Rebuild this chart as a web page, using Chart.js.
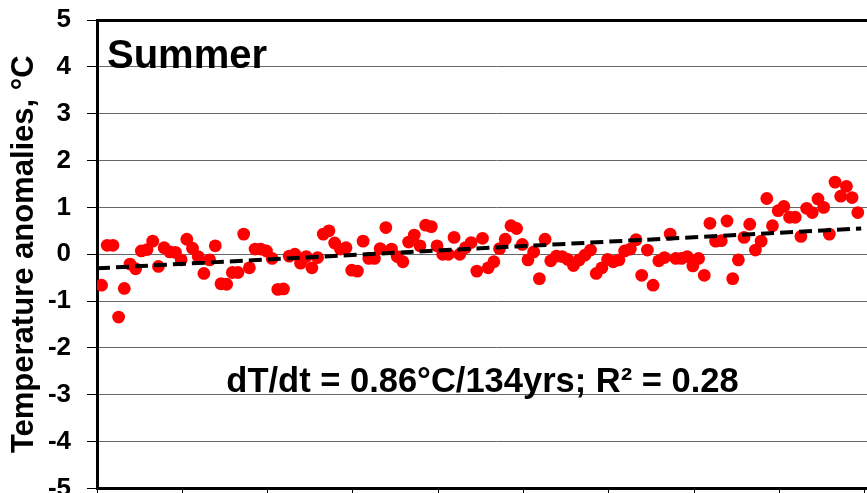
<!DOCTYPE html>
<html>
<head>
<meta charset="utf-8">
<script src="https://cdn.jsdelivr.net/npm/chart.js@4.4.0/dist/chart.umd.min.js"></script>
<style>
  html, body { margin: 0; padding: 0; width: 867px; height: 493px; overflow: hidden; background: #fff; }
  #wrap { position: absolute; left: 0; top: 0; }
</style>
</head>
<body>
<div id="wrap"><canvas id="chart-summer" width="900" height="520"></canvas></div>
<script>
const FONT = 'Arial, "Liberation Sans", sans-serif';

// summer temperature anomalies, one per year 1880..2013
const firstYear = 1880;
const summerAnomalies = [
  -0.66, 0.19, 0.19, -1.34, -0.73, -0.21, -0.31, 0.07, 0.10, 0.28,
  -0.26, 0.14, 0.05, 0.04, -0.12, 0.32, 0.13, -0.05, -0.41, -0.12,
  0.18, -0.63, -0.64, -0.39, -0.39, 0.43, -0.29, 0.11, 0.11, 0.07,
  -0.09, -0.75, -0.74, -0.04, 0.00, -0.19, -0.05, -0.29, -0.07, 0.43,
  0.50, 0.24, 0.11, 0.14, -0.34, -0.36, 0.28, -0.09, -0.09, 0.12,
  0.57, 0.11, -0.05, -0.16, 0.26, 0.41, 0.18, 0.62, 0.59, 0.18,
  0.00, 0.00, 0.36, 0.00, 0.14, 0.25, -0.36, 0.34, -0.29, -0.16,
  0.12, 0.32, 0.61, 0.55, 0.21, -0.12, 0.05, -0.52, 0.32, -0.14,
  -0.04, -0.05, -0.11, -0.24, -0.12, -0.02, 0.09, -0.41, -0.29, -0.11,
  -0.16, -0.12, 0.07, 0.11, 0.31, -0.45, 0.09, -0.66, -0.14, -0.07,
  0.43, -0.09, -0.09, -0.05, -0.25, -0.09, -0.45, 0.66, 0.28, 0.29,
  0.71, -0.52, -0.12, 0.36, 0.64, 0.09, 0.28, 1.19, 0.61, 0.93,
  1.02, 0.79, 0.79, 0.38, 0.98, 0.89, 1.18, 1.00, 0.43, 1.54,
  1.24, 1.45, 1.21, 0.89
];
const years = summerAnomalies.map((v, i) => firstYear + i);

// linear trend (end points)
const trendYears = [1879.2, 2013.6];
const trendValues = [-0.30, 0.55];

// axis ticks
const xMin = 1879.2, xMax = 2019.3;
const xTicks = [1879.2, 1894.2, 1909.2, 1924.2, 1939.2, 1954.2, 1969.2, 1984.2, 1999.2, 2014.2];
const yTicks = [-5, -4, -3, -2, -1, 0, 1, 2, 3, 4, 5];

const panelTitle = 'Summer';
const fitNote = 'dT/dt = 0.86°C/134yrs; R² = 0.28';
const yTitle = 'Temperature anomalies, °C';

const textLabels = {
  id: 'textLabels',
  afterDraw(chart) {
    const { ctx, chartArea, scales } = chart;
    ctx.save();
    ctx.fillStyle = '#000';
    ctx.font = 'bold 40px ' + FONT;
    ctx.textAlign = 'left';
    ctx.textBaseline = 'alphabetic';
    ctx.fillText(panelTitle, chartArea.left + 10, chartArea.top + 48);
    ctx.font = 'bold 34.5px ' + FONT;
    ctx.textAlign = 'center';
    ctx.textBaseline = 'middle';
    ctx.fillText(fitNote, scales.x.getPixelForValue(1947.0), scales.y.getPixelForValue(-2.74));
    ctx.restore();
  }
};

const chartSummer = document.getElementById('chart-summer');

new Chart(chartSummer, {
  type: 'scatter',
  data: {
    datasets: [{
      type: 'line',
      data: trendYears.map((x, i) => ({ x: x, y: trendValues[i] })),
      borderColor: '#000',
      borderWidth: 4,
      borderDash: [13, 6],
      pointRadius: 0,
      order: 0
    }, {
      data: years.map((x, i) => ({ x: x, y: summerAnomalies[i] })),
      backgroundColor: '#ff0000',
      borderWidth: 0,
      pointRadius: 6.4,
      order: 1
    }]
  },
  options: {
    responsive: false,
    animation: false,
    layout: { padding: { left: 0, top: 20, right: 0, bottom: 0 } },
    plugins: { legend: { display: false }, tooltip: { enabled: false } },
    scales: {
      x: {
        type: 'linear',
        min: xMin,
        max: xMax,
        afterBuildTicks: s => { s.ticks = xTicks.map(v => ({ value: v })); },
        afterFit: s => { s.height = 31.5; },
        ticks: { display: false },
        grid: { drawOnChartArea: false, tickLength: 8, color: '#000', lineWidth: 1 },
        border: { color: '#000', width: 3 }
      },
      y: {
        min: -5,
        max: 5,
        afterBuildTicks: s => { s.ticks = yTicks.map(v => ({ value: v })); },
        afterFit: s => { s.width = 97; s.paddingTop = 0; s.paddingBottom = 0; },
        ticks: { color: '#000', padding: 16, font: { family: FONT, size: 26, weight: 'bold' } },
        grid: {
          color: c => (Math.abs(c.tick.value) === 5 ? '#000' : '#666'),
          lineWidth: c => (Math.abs(c.tick.value) === 5 ? 3 : 1),
          tickLength: 10,
          tickWidth: 1,
          tickColor: '#000'
        },
        border: { color: '#000', width: 3 },
        title: {
          display: true,
          text: yTitle,
          color: '#000',
          padding: { top: 6, bottom: 0 },
          font: { family: FONT, size: 31, weight: 'bold' }
        }
      }
    }
  },
  plugins: [textLabels]
});
</script>
</body>
</html>
